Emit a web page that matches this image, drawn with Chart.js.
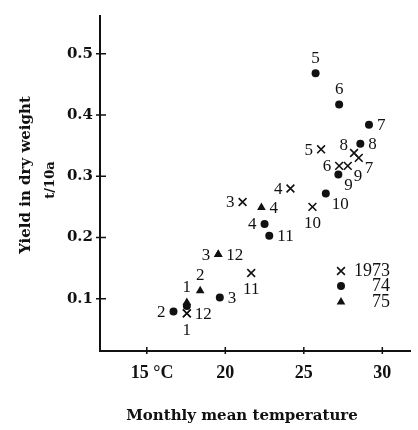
<!DOCTYPE html>
<html>
<head>
<meta charset="utf-8">
<script src="https://cdn.jsdelivr.net/npm/chart.js@4"></script>
<style>
  html, body { margin: 0; padding: 0; background: #fff; }
  canvas { display: block; }
</style>
</head>
<body>
<canvas id="chart" width="418" height="430"></canvas>
<script>
// 1973 (x marks)
const months73 = ["1", "3", "4", "5", "6", "7", "8", "9", "10", "11", "12"];
const temp73 = [17.55, 21.1, 24.15, 26.1, 27.25, 28.5, 28.2, 27.8, 25.55, 21.65, 17.55];
const yield73 = [0.076, 0.258, 0.28, 0.344, 0.317, 0.33, 0.338, 0.317, 0.25, 0.142, 0.076];
const side73 = ["b", "l", "l", "l", "l", "rb", "lt", "rb", "b", "b", "r"];

// 1974 (dots)
const months74 = ["1", "2", "3", "4", "5", "6", "7", "8", "9", "10", "11"];
const temp74 = [17.55, 16.7, 19.65, 22.5, 25.75, 27.25, 29.15, 28.6, 27.2, 26.4, 22.8];
const yield74 = [0.088, 0.079, 0.102, 0.222, 0.468, 0.417, 0.384, 0.353, 0.303, 0.272, 0.203];
const side74 = ["", "l", "r", "l", "t", "t", "r", "r", "rb", "rb", "r"];

// 1975 (triangles)
const months75 = ["1", "2", "3", "4", "12"];
const temp75 = [17.55, 18.4, 19.55, 22.3, 19.55];
const yield75 = [0.094, 0.113, 0.172, 0.249, 0.172];
const side75 = ["t", "t", "l", "r", "r"];

const legendText = ["1973", "74", "75"];
const xTicks = [15, 20, 25, 30];
const xTickLabels = ["15 °C", "20", "25", "30"];
const yTicks = [0.1, 0.2, 0.3, 0.4, 0.5];

const ink = "#111";

function toPoints(xs, ys) {
  return xs.map((v, i) => ({ x: v, y: ys[i] }));
}

function drawMarker(ctx, style, x, y) {
  ctx.beginPath();
  if (style === "crossRot") {
    const d = 5.5 * Math.SQRT1_2;
    ctx.moveTo(x - d, y - d); ctx.lineTo(x + d, y + d);
    ctx.moveTo(x - d, y + d); ctx.lineTo(x + d, y - d);
    ctx.lineWidth = 1.6;
    ctx.stroke();
  } else if (style === "circle") {
    ctx.arc(x, y, 4, 0, Math.PI * 2);
    ctx.fill();
  } else {
    const r = 5;
    ctx.moveTo(x, y - r);
    ctx.lineTo(x + r * 0.866, y + r / 2);
    ctx.lineTo(x - r * 0.866, y + r / 2);
    ctx.closePath();
    ctx.fill();
  }
}

const decor = {
  id: "decor",
  afterDraw(chart) {
    const { ctx, chartArea: area, scales: { x, y } } = chart;
    ctx.save();
    ctx.strokeStyle = ink;
    ctx.fillStyle = ink;
    ctx.lineWidth = 1.5;

    // tick marks crossing the axes
    ctx.beginPath();
    xTicks.forEach(v => {
      const px = x.getPixelForValue(v);
      ctx.moveTo(px, area.bottom - 4);
      ctx.lineTo(px, area.bottom + 3);
    });
    yTicks.forEach(v => {
      const py = y.getPixelForValue(v);
      ctx.moveTo(area.left - 4, py);
      ctx.lineTo(area.left + 6, py);
    });
    ctx.stroke();

    // x tick labels
    ctx.font = "bold 18px 'Liberation Serif'";
    ctx.textBaseline = "middle";
    xTicks.forEach((v, i) => {
      const px = x.getPixelForValue(v);
      const txt = xTickLabels[i];
      if (txt.includes("°")) {
        ctx.textAlign = "left";
        ctx.fillText(txt, px - 16, area.bottom + 22);
      } else {
        ctx.textAlign = "center";
        ctx.fillText(txt, px, area.bottom + 22);
      }
    });

    // axis titles
    ctx.font = "bold 15px 'DejaVu Serif'";
    ctx.textAlign = "center";
    ctx.fillText("Monthly mean temperature", 242, 416);
    ctx.save();
    ctx.translate(26, 175);
    ctx.rotate(-Math.PI / 2);
    ctx.fillText("Yield in dry weight", 0, 0);
    ctx.restore();
    ctx.save();
    ctx.translate(51, 180);
    ctx.rotate(-Math.PI / 2);
    ctx.font = "bold 13px 'DejaVu Serif'";
    ctx.fillText("t/10a", 0, 0);
    ctx.restore();

    // month labels next to the points
    ctx.font = "17px 'Liberation Serif'";
    const sides = [side73, side74, side75];
    const names = [months73, months74, months75];
    chart.data.datasets.forEach((ds, di) => {
      const meta = chart.getDatasetMeta(di);
      meta.data.forEach((pt, i) => {
        const s = sides[di][i];
        const txt = names[di][i];
        if (!s) return;
        let tx = pt.x, ty = pt.y + 1;
        if (s === "l") { ctx.textAlign = "right"; tx -= 8; }
        else if (s === "r") { ctx.textAlign = "left"; tx += 8; }
        else if (s === "t") { ctx.textAlign = "center"; ty -= 16; }
        else if (s === "b") { ctx.textAlign = "center"; ty += 16; }
        else if (s === "rb") { ctx.textAlign = "left"; tx += 6; ty += 10; }
        else if (s === "lt") { ctx.textAlign = "right"; tx -= 6; ty -= 8; }
        ctx.fillText(txt, tx, ty);
      });
    });

    // legend box
    const rows = [271, 286, 302];
    ctx.font = "18px 'Liberation Serif'";
    ctx.textAlign = "right";
    chart.data.datasets.forEach((ds, i) => {
      drawMarker(ctx, ds.pointStyle, 341, rows[i]);
      ctx.fillText(legendText[i], 390, rows[i]);
    });
    ctx.restore();
  }
};

new Chart(document.getElementById("chart"), {
  type: "scatter",
  data: {
    datasets: [
      {
        label: legendText[0],
        data: toPoints(temp73, yield73),
        pointStyle: "crossRot",
        pointRadius: 5.5,
        pointBorderWidth: 1.6,
        pointBorderColor: ink,
        pointBackgroundColor: ink,
      },
      {
        label: legendText[1],
        data: toPoints(temp74, yield74),
        pointStyle: "circle",
        pointRadius: 4,
        pointBorderWidth: 0,
        pointBorderColor: ink,
        pointBackgroundColor: ink,
      },
      {
        label: legendText[2],
        data: toPoints(temp75, yield75),
        pointStyle: "triangle",
        pointRadius: 5,
        pointBorderWidth: 0,
        pointBorderColor: ink,
        pointBackgroundColor: ink,
      },
    ],
  },
  options: {
    responsive: false,
    animation: false,
    events: [],
    layout: { padding: { top: 5, right: 6, left: 0, bottom: 0 } },
    plugins: { legend: { display: false }, tooltip: { enabled: false } },
    scales: {
      x: {
        type: "linear",
        min: 12.02,
        max: 31.82,
        grid: { display: false, drawTicks: false },
        border: { display: true, color: ink, width: 2 },
        ticks: { display: false },
        afterBuildTicks: (s) => { s.ticks = xTicks.map(v => ({ value: v })); },
        afterFit: (s) => { s.height = 79; },
      },
      y: {
        type: "linear",
        min: 0.0146,
        max: 0.5617,
        grid: { display: false, drawTicks: false },
        border: { display: true, color: ink, width: 2 },
        ticks: {
          color: ink,
          padding: 7,
          font: { family: "'DejaVu Serif'", size: 15, weight: "bold" },
          callback: (v) => v.toFixed(1),
        },
        afterBuildTicks: (s) => { s.ticks = yTicks.map(v => ({ value: v })); },
        afterFit: (s) => { s.width = 100; },
      },
    },
  },
  plugins: [decor],
});
</script>
</body>
</html>
